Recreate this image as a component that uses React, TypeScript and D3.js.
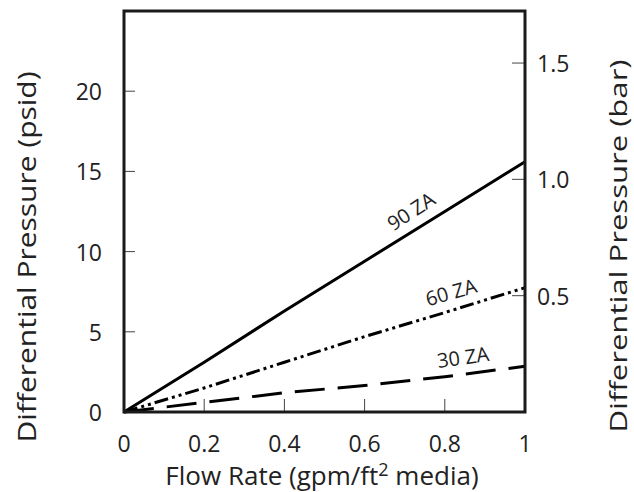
import React from "react";
import * as d3 from "d3";

const flow = [0, 0.2, 0.4, 0.6, 0.8, 1.0];
const za90 = [0, 3.1, 6.3, 9.4, 12.5, 15.6];
const za60 = [0, 1.5, 3.1, 4.7, 6.2, 7.75];
const za30 = [0, 0.6, 1.2, 1.65, 2.2, 2.85];
const xTicks = [0, 0.2, 0.4, 0.6, 0.8, 1];
const xTickLabels = ["0", "0.2", "0.4", "0.6", "0.8", "1"];
const psiTicks = [0, 5, 10, 15, 20];
const barTicks = [0.5, 1.0, 1.5];
const barTickLabels = ["0.5", "1.0", "1.5"];
const PSI_PER_BAR = 14.5038;

const W = 634;
const H = 492;
const left = 124;
const right = 525;
const top = 11;
const bottom = 412;
const FONT = "'Open Sans', Lato, sans-serif";

export default function App() {
  const x = d3.scaleLinear().domain([0, 1]).range([left, right]);
  const y = d3.scaleLinear().domain([0, 25]).range([bottom, top]);
  const yBar = d3.scaleLinear().domain([0, 25 / PSI_PER_BAR]).range([bottom, top]);
  const line = d3
    .line<number>()
    .x((_, i) => x(flow[i]))
    .y((d) => y(d));

  const series = [
    { vals: za90, dash: undefined as string | undefined, label: "90 ZA", lx: 411, ly: 211, rot: -33 },
    { vals: za60, dash: "14,4,3,4,3,4", label: "60 ZA", lx: 451, ly: 292, rot: -16 },
    { vals: za30, dash: "30,13", label: "30 ZA", lx: 463, ly: 357, rot: -8 },
  ];

  return (
    <svg width={W} height={H} style={{ position: "absolute", left: 0, top: 0 }} fontFamily={FONT}>
      <rect width={W} height={H} fill="#fff" />
      {psiTicks.slice(1).map((t) => (
        <line key={"pl" + t} x1={left} x2={left + 11} y1={y(t)} y2={y(t)} stroke="#444" strokeWidth={1} />
      ))}
      {barTicks.map((t) => (
        <line key={"bl" + t} x1={right - 13} x2={right} y1={yBar(t)} y2={yBar(t)} stroke="#444" strokeWidth={1} />
      ))}
      {xTicks.slice(1, -1).map((t) => (
        <line key={"xl" + t} x1={x(t)} x2={x(t)} y1={bottom} y2={bottom - 13} stroke="#444" strokeWidth={1} />
      ))}
      {series.map((s) => (
        <g key={s.label}>
          <path d={line(s.vals) || ""} fill="none" stroke="#000" strokeWidth={3} strokeDasharray={s.dash} />
          <text
            x={s.lx}
            y={s.ly}
            fontSize={20}
            fill="#222"
            textAnchor="middle"
            dominantBaseline="central"
            transform={`rotate(${s.rot},${s.lx},${s.ly})`}
          >
            {s.label}
          </text>
        </g>
      ))}
      <rect x={left} y={top} width={right - left} height={bottom - top} fill="none" stroke="#1a1a1a" strokeWidth={3} />
      {psiTicks.map((t) => (
        <text key={"pt" + t} x={102} y={y(t)} fontSize={23} fill="#222" textAnchor="end" dominantBaseline="central">
          {t}
        </text>
      ))}
      {barTicks.map((t, i) => (
        <text key={"bt" + t} x={537} y={yBar(t)} fontSize={23} fill="#222" textAnchor="start" dominantBaseline="central">
          {barTickLabels[i]}
        </text>
      ))}
      {xTicks.map((t, i) => (
        <text key={"xt" + t} x={x(t)} y={452} fontSize={23} fill="#222" textAnchor="middle">
          {xTickLabels[i]}
        </text>
      ))}
      <text x={322} y={485} fontSize={26} fill="#222" textAnchor="middle">
        Flow Rate (gpm/ft<tspan fontSize={18} dy={-9}>2</tspan>
        <tspan dy={9}> media)</tspan>
      </text>
      <text
        x={0}
        y={0}
        fontSize={25}
        fill="#222"
        textAnchor="middle"
        dominantBaseline="central"
        textLength={371}
        lengthAdjust="spacingAndGlyphs"
        transform={`translate(26,257) rotate(-90)`}
      >
        Differential Pressure (psid)
      </text>
      <text
        x={0}
        y={0}
        fontSize={24}
        fill="#222"
        textAnchor="middle"
        dominantBaseline="central"
        textLength={373}
        lengthAdjust="spacingAndGlyphs"
        transform={`translate(617,246) rotate(-90)`}
      >
        Differential Pressure (bar)
      </text>
    </svg>
  );
}
